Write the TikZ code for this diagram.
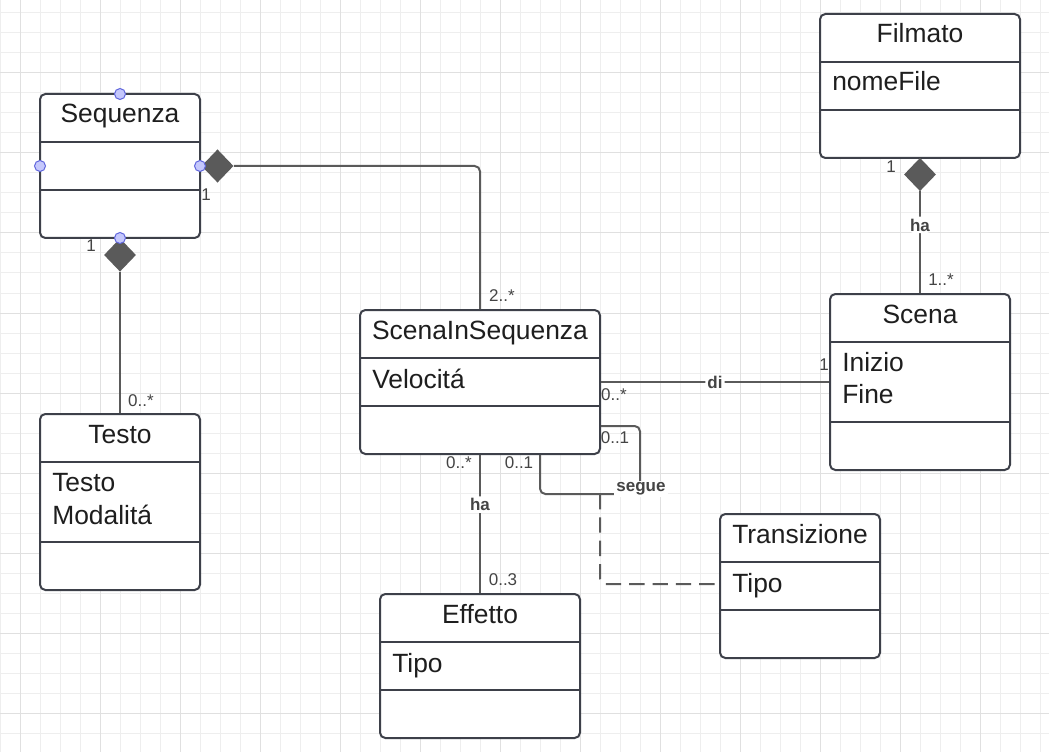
\documentclass[tikz,border=0pt]{standalone}
\usepackage{fontspec}
\setmainfont{Liberation Sans}
\usetikzlibrary{shapes.geometric,calc}
\definecolor{boxc}{HTML}{3D4049}
\definecolor{connc}{HTML}{5A5A5A}
\definecolor{txtc}{HTML}{1E1E1E}
\definecolor{labc}{HTML}{444444}
\definecolor{gridminor}{HTML}{EEEEEE}
\definecolor{gridmajor}{HTML}{E0E0E0}
\definecolor{portfill}{HTML}{C5C8FC}
\definecolor{portdraw}{HTML}{6066DD}
\tikzset{
 classbox/.style={draw=boxc, line width=1.5pt, rounded corners=4pt, fill=white, inner sep=0pt},
 divider/.style={draw=boxc, line width=1.5pt},
 ctitle/.style={anchor=base, text=txtc, font=\fontsize{19.8}{23}\selectfont, inner sep=0pt},
 cattr/.style={anchor=base west, text=txtc, font=\fontsize{19.8}{23}\selectfont, inner sep=0pt},
 conn/.style={draw=connc, line width=1.5pt, rounded corners=4pt},
 dashconn/.style={conn, dash pattern=on 11.5pt off 6pt},
 mult/.style={text=labc, font=\fontsize{12.75}{15}\selectfont, inner sep=0pt},
 alabel/.style={text=labc, font=\bfseries\fontsize{12.75}{15}\selectfont, fill=white, inner sep=1.5pt},
 compo/.style={diamond, fill=connc, inner sep=0pt, minimum width=24pt, minimum height=25pt},
 port/.style={circle, fill=portfill, draw=portdraw, line width=0.75pt, minimum size=8.25pt, inner sep=0pt},
 gminor/.style={draw=gridminor, line width=0.75pt},
 gmajor/.style={draw=gridmajor, line width=0.75pt},
}
\newcommand\umlclass[8]{%
 \node[classbox, minimum width={(#4-#2)*0.75pt}, minimum height={(#5-#3)*0.75pt}] (#1) at ({(#2+#4)/2},{(#3+#5)/2}) {};
 \draw[divider] (#2,#6) -- (#4,#6) (#2,#7) -- (#4,#7);
 \node[ctitle] (#1-title) at ({(#2+#4)/2},{#3+29}) {#8};
}
\begin{document}
\begin{tikzpicture}[x=0.75pt,y=-0.75pt]
\useasboundingbox (0,0) rectangle (1049,752);
\fill[white] (0,0) rectangle (1049,752);
\foreach \x in {0,20,...,1040} \draw[gminor] (\x,0) -- (\x,752);
\foreach \y in {13,33,...,752} \draw[gminor] (0,\y) -- (1049,\y);
\foreach \x in {20,100,...,1020} \draw[gmajor] (\x,0) -- (\x,752);
\foreach \y in {73,153,...,713} \draw[gmajor] (0,\y) -- (1049,\y);

% classes
\umlclass{seq}{40}{94}{200}{238}{142}{190}{Sequenza}
\umlclass{testo}{40}{414}{200}{590}{462}{542}{Testo}
\node[cattr] (testo-a1) at (52,491) {Testo};
\node[cattr] (testo-a2) at (52,524) {Modalitá};
\umlclass{sis}{360}{310}{600}{454}{358}{406}{ScenaInSequenza}
\node[cattr] (sis-a1) at (372,388) {Velocitá};
\umlclass{scena}{830}{294}{1010}{470}{342}{422}{Scena}
\node[cattr] (scena-a1) at (842,371) {Inizio};
\node[cattr] (scena-a2) at (842,403) {Fine};
\umlclass{film}{820}{14}{1020}{158}{62}{110}{Filmato}
\node[cattr] (film-a1) at (832,91) {nomeFile};
\umlclass{trans}{720}{514}{880}{658}{562}{610}{Transizione}
\node[cattr] (trans-a1) at (732,592) {Tipo};
\umlclass{eff}{380}{594}{580}{738}{642}{690}{Effetto}
\node[cattr] (eff-a1) at (392,672) {Tipo};

% composition diamonds
\node[compo] (d1) at (217.5,166) {};
\node[compo] (d2) at (120,255) {};
\node[compo] (d3) at (920,174.5) {};

% connectors
\draw[conn] (d1.east) -| (sis.north);
\draw[conn] (d2.south) -- (testo.north);
\draw[conn] (d3.south) -- node[alabel, pos=0.33] (ha1) {ha} (scena.north);
\draw[conn] (sis.east) -- node[alabel] (di) {di} (scena.west);
\draw[conn] (sis.south) -- node[alabel, pos=0.36] (ha2) {ha} (eff.north);
\draw[conn] (sis.east |- 0,426) -- (640,426) -- (640,494) -- (540,494) -- (540,0 |- sis.south);
\coordinate (dstart) at (600,494);
\draw[dashconn] (dstart) -- (600,584) -- (trans.west |- 0,584);
\node[alabel] (segue) at (641,489) {segue};

% ports
\node[port] (p1) at (120,94) {};
\node[port] (p2) at (40,166) {};
\node[port] (p3) at (200,166) {};
\node[port] (p4) at (120,238) {};

% multiplicities
\node[mult] (m1) at (206,195) {1};
\node[mult] (m2) at (502,296) {2..*};
\node[mult] (m3) at (91,246) {1};
\node[mult] (m4) at (141,401) {0..*};
\node[mult] (m5) at (891,167) {1};
\node[mult] (m6) at (941,280) {1..*};
\node[mult] (m7) at (824,365) {1};
\node[mult] (m8) at (614,395) {0..*};
\node[mult] (m9) at (615,438) {0..1};
\node[mult] (m10) at (459,463) {0..*};
\node[mult] (m11) at (519,463) {0..1};
\node[mult] (m12) at (503,580) {0..3};
\end{tikzpicture}
\end{document}
